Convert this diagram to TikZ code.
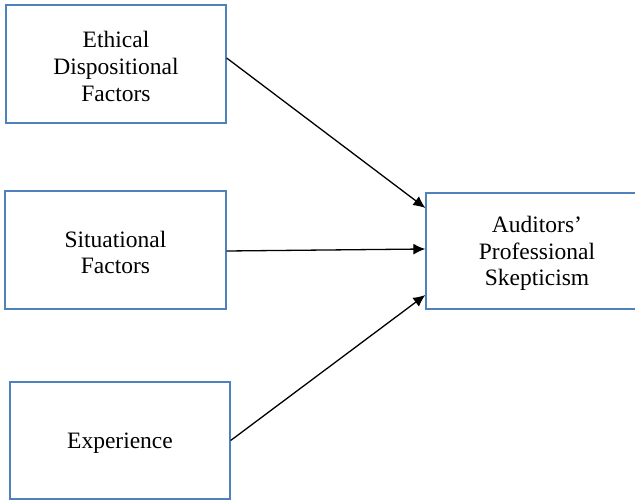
\documentclass[tikz,border=0pt]{standalone}
\usepackage{fontspec}
\setmainfont{Liberation Serif}
\usetikzlibrary{arrows.meta}
\definecolor{boxblue}{RGB}{79,129,189}
\begin{document}
\begin{tikzpicture}[x=1pt,y=-1pt,
  factor/.style={draw=boxblue,line width=1.3pt,inner sep=0pt},
  factortext/.style={align=center,inner sep=0pt,yshift=-2.5pt,
    font=\fontsize{23.5}{26.8}\selectfont},
  link/.style={line width=1.3pt,-{Latex[length=12pt,width=11pt]}}]
\useasboundingbox (0,0) rectangle (635,500);
\begin{scope}
\clip (0,0) rectangle (635,500);
\node[factor,minimum width=220pt,minimum height=118pt] (b1) at (116,64) {};
\node[factor,minimum width=221pt,minimum height=118pt] (b2) at (115.5,250) {};
\node[factor,minimum width=220pt,minimum height=117pt] (b3) at (120,440.5) {};
\node[factor,minimum width=222pt,minimum height=116pt] (b4) at (537,251) {};
\end{scope}
\node[factortext] (t1) at (b1) {Ethical\\Dispositional\\Factors};
\node[factortext] (t2) at (b2) {Situational\\Factors};
\node[factortext] (t3) at (b3) {Experience};
\node[factortext] (t4) at (b4) {Auditors’\\Professional\\Skepticism};
\draw[link] ([yshift=6pt]b1.east) -- ([yshift=43pt]b4.west);
\draw[link] ([yshift=-1pt]b2.east) -- ([yshift=2pt]b4.west);
\draw[link] (b3.east) -- ([yshift=-44pt]b4.west);
\end{tikzpicture}
\end{document}
